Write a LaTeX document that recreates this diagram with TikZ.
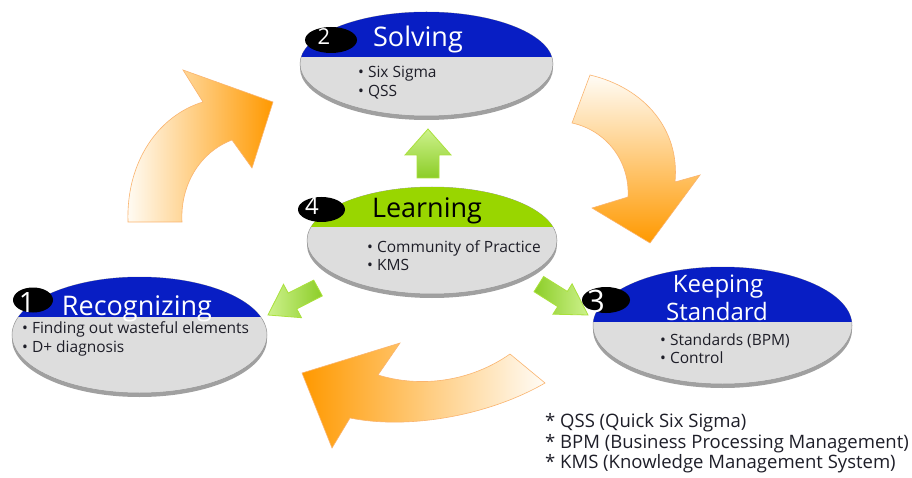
\documentclass[tikz,border=0pt]{standalone}
\usepackage{fontspec}
\setmainfont{Open Sans}
\usetikzlibrary{shapes.geometric,shadows}
\definecolor{capblue}{RGB}{8,30,196}
\definecolor{capgreen}{RGB}{153,214,0}
\definecolor{facegray}{RGB}{221,221,221}
\definecolor{rimgray}{RGB}{160,160,160}
\definecolor{edgegray}{RGB}{150,150,150}
\definecolor{orangeA}{RGB}{255,153,0}
\definecolor{orangeL}{RGB}{255,252,246}
\definecolor{orangeE}{RGB}{250,180,110}
\definecolor{greenL}{RGB}{205,242,140}
\definecolor{greenD}{RGB}{140,205,40}
\definecolor{greenE}{RGB}{170,225,60}
\definecolor{txtdark}{RGB}{30,30,40}
\tikzset{
  face/.style={ellipse, fill=facegray, draw=edgegray, line width=0.5pt, inner sep=0,
    general shadow={fill=rimgray, shadow yshift=-4pt}},
  badge/.style={ellipse, fill=black, inner sep=0},
  ttl/.style={font=\fontsize{27}{30}\selectfont, anchor=base, inner sep=0},
  bul/.style={font=\fontsize{15.5}{18}\selectfont, anchor=base west, inner sep=0, text=txtdark},
  num/.style={text=white, anchor=base, inner sep=0},
  note/.style={font=\fontsize{18.5}{20}\selectfont, anchor=base west, inner sep=0, text=txtdark},
  orarrow/.style={draw=orangeE, line width=0.6pt},
  grarrow/.style={draw=greenE, line width=0.8pt}
}
\begin{document}
\begin{tikzpicture}[x=1pt,y=-1pt]
\useasboundingbox (0,0) rectangle (912,478);
\fill[white] (0,0) rectangle (912,478);

% orange cycle arrows
\shade[orarrow, left color=orangeL, right color=orangeA]
  (128,222) .. controls (126,160) and (160,115) .. (203,102)
  -- (183,70) -- (273,102) -- (252,168) -- (232,140)
  .. controls (200,152) and (180,185) .. (182,222) -- cycle;
\shade[orarrow, top color=orangeL, bottom color=orangeA]
  (590,75) .. controls (645,88) and (680,130) .. (675,182)
  -- (700,175) -- (650,243) -- (592,208) -- (628,197)
  .. controls (630,160) and (605,130) .. (572,123) -- cycle;
\shade[orarrow, left color=orangeA, right color=orangeL]
  (510,354) -- (545,383) .. controls (490,415) and (410,430) .. (350,418)
  -- (332,448) -- (302,373) -- (400,343) -- (378,375)
  .. controls (420,388) and (470,382) .. (510,354);

% green arrows
\shade[grarrow, top color=greenL, bottom color=greenD]
  (417,178) -- (417,155) -- (405,155) -- (428,129) -- (451,155) -- (439,155) -- (439,178) -- cycle;
\shade[grarrow, left color=greenL, right color=greenD]
  (313.7,280.1) -- (288.2,293.1) -- (283.5,284.3) -- (268,315) -- (301.5,317.7) -- (296.8,308.9) -- (322.3,295.9) -- cycle;
\shade[grarrow, left color=greenD, right color=greenL]
  (543.6,276.5) -- (567.3,291.4) -- (572.1,283.8) -- (588,315) -- (552.9,314.2) -- (557.7,306.6) -- (534.0,291.7) -- cycle;

% ellipses
\node[face, minimum width=253pt, minimum height=104pt] (sol) at (426.5,64) {};
\node[face, minimum width=255pt, minimum height=116pt] (rec) at (139.5,335) {};
\node[face, minimum width=250pt, minimum height=107pt] (lea) at (432,240.5) {};
\node[face, minimum width=259pt, minimum height=117pt] (kee) at (722.5,325.5) {};

\begin{scope}
  \clip (sol.center) ellipse [x radius=126.5pt, y radius=52pt];
  \fill[capblue] (290,0) rectangle (560,57);
\end{scope}
\begin{scope}
  \clip (rec.center) ellipse [x radius=127.5pt, y radius=58pt];
  \fill[capblue] (0,260) rectangle (280,317);
\end{scope}
\begin{scope}
  \clip (lea.center) ellipse [x radius=125pt, y radius=53.5pt];
  \fill[capgreen] (300,180) rectangle (565,227);
\end{scope}
\begin{scope}
  \clip (kee.center) ellipse [x radius=129.5pt, y radius=58.5pt];
  \fill[capblue] (590,260) rectangle (860,322);
\end{scope}

% titles
\node[ttl, text=white] (solt) at (418,47) {Solving};
\node[ttl, text=white] (rect) at (137,315) {Recognizing};
\node[ttl, text=black] (leat) at (427,218) {Learning};
\node[ttl, text=white, font=\fontsize{24}{28}\selectfont] (keet1) at (718,292) {Keeping};
\node[ttl, text=white, font=\fontsize{24}{28}\selectfont] (keet2) at (717,320) {Standard};

% bullets
\node[bul] (sb1) at (358,78) {• Six Sigma};
\node[bul] (sb2) at (358,97) {• QSS};
\node[bul] (rb1) at (22,333) {• Finding out wasteful elements};
\node[bul] (rb2) at (22,352) {• D+ diagnosis};
\node[bul] (lb1) at (367,252) {• Community of Practice};
\node[bul] (lb2) at (367,270) {• KMS};
\node[bul] (kb1) at (660,345) {• Standards (BPM)};
\node[bul] (kb2) at (660,363) {• Control};

% badges
\node[badge, minimum width=40pt, minimum height=25pt] (b1) at (33,300) {};
\node[badge, minimum width=52pt, minimum height=26pt] (b2) at (331,40) {};
\node[badge, minimum width=47pt, minimum height=25pt] (b4) at (321.5,209.5) {};
\node[badge, minimum width=48pt, minimum height=26pt] (b3) at (606,300) {};
\node[num, font=\fontsize{28}{30}\selectfont] (n1) at (27,312) {1};
\node[num, font=\fontsize{22}{24}\selectfont] (n2) at (324,45) {2};
\node[num, font=\fontsize{24}{26}\selectfont] (n4) at (312,215) {4};
\node[num, font=\fontsize{31}{33}\selectfont] (n3) at (596,312) {3};

% notes
\node[note] (f1) at (545,427) {* QSS (Quick Six Sigma)};
\node[note] (f2) at (545,448) {* BPM (Business Processing Management)};
\node[note] (f3) at (545,468) {* KMS (Knowledge Management System)};
\end{tikzpicture}
\end{document}
